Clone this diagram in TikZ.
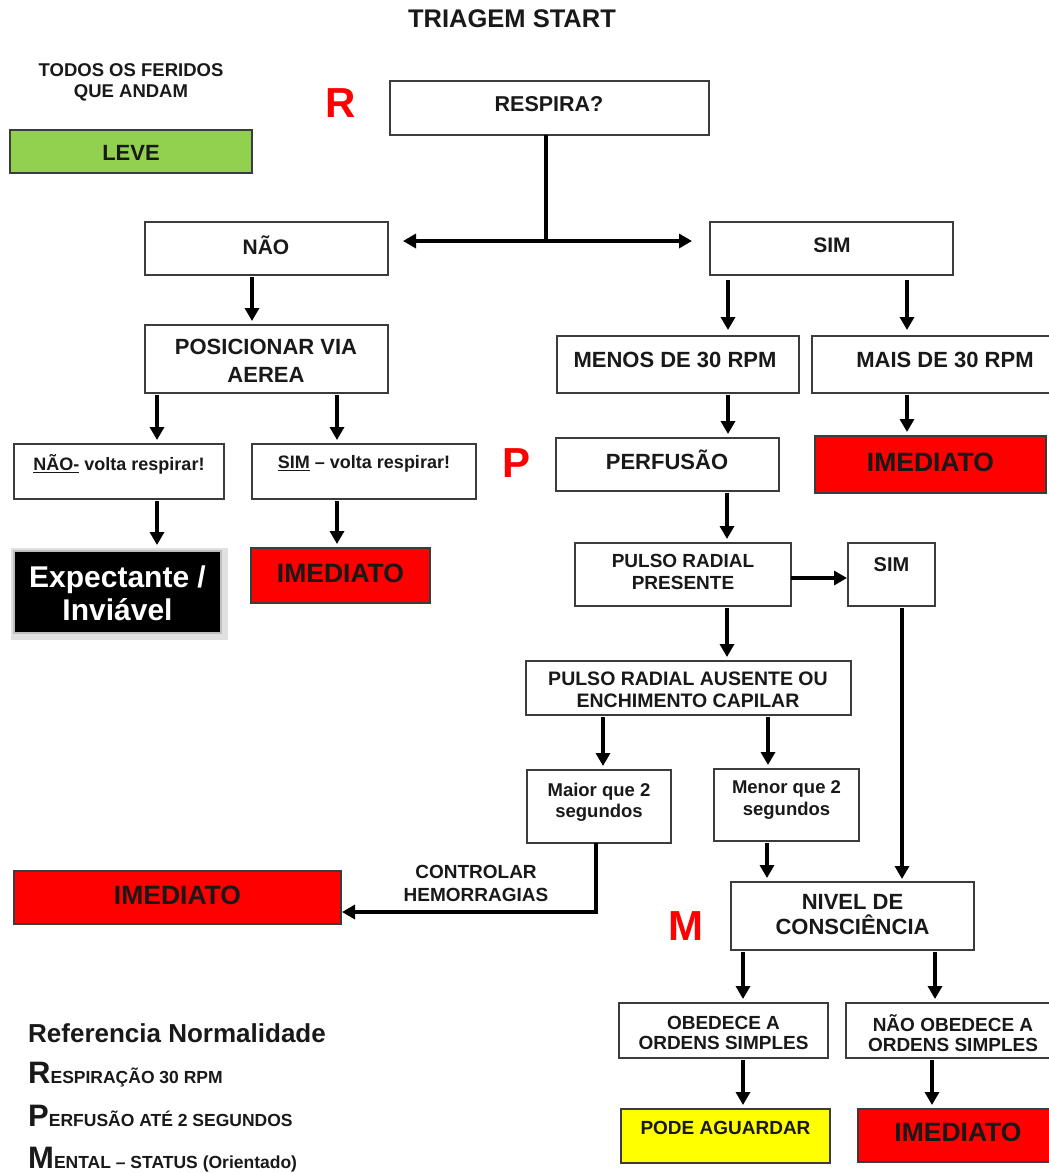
\documentclass[tikz,border=0pt]{standalone}
\usepackage{fontspec}
\setmainfont{Liberation Sans}
\usetikzlibrary{arrows.meta}
\definecolor{okgreen}{HTML}{92D050}
\definecolor{alarmred}{HTML}{FF0000}
\definecolor{waityellow}{HTML}{FFFF00}
\definecolor{frame}{HTML}{3C3C3C}
\newcommand\myfs[2]{\fontsize{#1}{#2}\selectfont}
\tikzset{
  box/.style={draw=frame, line width=1.6pt, inner sep=0pt, outer sep=0pt},
  txt/.style={font=\bfseries, align=center, inner sep=0pt, text=black!90},
  arr/.style={line width=3.4pt, -{Triangle[length=13pt,width=14pt]}, shorten <=2pt, shorten >=4pt},
  plain/.style={line width=3.4pt},
  redletter/.style={font=\bfseries\myfs{42}{44}, text=alarmred, inner sep=0pt},
}
\begin{document}
\begin{tikzpicture}[x=1pt, y=-1pt]
\useasboundingbox (0,0) rectangle (1049,1173);
\fill[white] (0,0) rectangle (1049,1173);

% title and side notes
\node[txt, font=\bfseries\myfs{25.5}{28}] (title) at (512,19) {TRIAGEM START};
\node[txt, font=\bfseries\myfs{18.5}{21}] (todos) at (131,82) {TODOS OS FERIDOS\\QUE ANDAM};
\node[redletter] (letR) at (341,103) {R};
\node[redletter] (letP) at (517,463) {P};
\node[redletter] (letM) at (686,926) {M};

% boxes
\node[box, minimum width=319pt, minimum height=54pt] (resp) at (549.5,108) {};
\node[box, fill=okgreen, minimum width=242pt, minimum height=43pt] (leve) at (131,151.5) {};
\node[box, minimum width=243pt, minimum height=53pt] (nao) at (266.5,248.5) {};
\node[box, minimum width=243pt, minimum height=53pt] (sim) at (831.5,248.5) {};
\node[box, minimum width=243pt, minimum height=68pt] (pos) at (266.5,359) {};
\node[box, minimum width=210pt, minimum height=55pt] (nvr) at (119,471.5) {};
\node[box, minimum width=224pt, minimum height=55pt] (svr) at (364,471.5) {};
\fill[black!12] (11,548) rectangle (228,640);
\node[box, draw=black!25, fill=black, minimum width=207pt, minimum height=82pt] (exp) at (117.5,592) {};
\node[box, fill=alarmred, minimum width=179pt, minimum height=55pt] (imA) at (340.5,575.5) {};
\node[box, minimum width=242pt, minimum height=57pt] (menos) at (678,364.5) {};
\node[box, minimum width=266pt, minimum height=57pt] (mais) at (945,364.5) {};
\node[box, minimum width=223pt, minimum height=53pt] (perf) at (667.5,464.5) {};
\node[box, fill=alarmred, minimum width=231pt, minimum height=57pt] (imB) at (930.5,464.5) {};
\node[box, minimum width=216pt, minimum height=63pt] (prp) at (683,574.5) {};
\node[box, minimum width=87pt, minimum height=63pt] (simB) at (891.5,574.5) {};
\node[box, minimum width=325pt, minimum height=54pt] (pra) at (688.5,688) {};
\node[box, minimum width=144pt, minimum height=73pt] (maior) at (599,806.5) {};
\node[box, minimum width=145pt, minimum height=72pt] (menor) at (786.5,805) {};
\node[box, fill=alarmred, minimum width=327pt, minimum height=53pt] (imC) at (177.5,897.5) {};
\node[box, minimum width=243pt, minimum height=68pt] (niv) at (852.5,916) {};
\node[box, minimum width=209pt, minimum height=55pt] (obd) at (723.5,1030.5) {};
\node[box, minimum width=214pt, minimum height=55pt] (nob) at (953,1030.5) {};
\node[box, fill=waityellow, minimum width=209pt, minimum height=54pt] (pode) at (725.5,1136) {};
\node[box, fill=alarmred, minimum width=200pt, minimum height=53pt] (imD) at (958,1135.5) {};

% box texts
\node[txt, font=\bfseries\myfs{21.5}{24}] (respT) at (549,104) {RESPIRA?};
\node[txt, font=\bfseries\myfs{22}{24}] (leveT) at (131,153) {LEVE};
\node[txt, font=\bfseries\myfs{21}{24}] (naoT) at (266,245) {NÃO};
\node[txt, font=\bfseries\myfs{21}{24}] (simT) at (832,245) {SIM};
\node[txt, font=\bfseries\myfs{22}{28}] (posT) at (266,361) {POSICIONAR VIA\\AEREA};
\node[txt, font=\bfseries\myfs{18}{20}] (nvrT) at (119,464) {\underline{NÃO-} volta respirar!};
\node[txt, font=\bfseries\myfs{18}{20}] (svrT) at (364,464) {\underline{SIM} – volta respirar!};
\node[txt, font=\bfseries\myfs{30}{33}, text=white] (expT) at (117.5,593) {Expectante /\\Inviável};
\node[txt, font=\bfseries\myfs{26.5}{28}] (imAT) at (340.5,573) {IMEDIATO};
\node[txt, font=\bfseries\myfs{22}{24}] (menosT) at (675,360) {MENOS DE 30 RPM};
\node[txt, font=\bfseries\myfs{22}{24}] (maisT) at (945,360) {MAIS DE 30 RPM};
\node[txt, font=\bfseries\myfs{22}{24}] (perfT) at (667,460) {PERFUSÃO};
\node[txt, font=\bfseries\myfs{26.5}{28}] (imBT) at (930.5,462) {IMEDIATO};
\node[txt, font=\bfseries\myfs{19}{21.5}] (prpT) at (683,572) {PULSO RADIAL\\PRESENTE};
\node[txt, font=\bfseries\myfs{20}{22}] (simBT) at (891.5,565) {SIM};
\node[txt, font=\bfseries\myfs{19.5}{22}] (praT) at (688,690) {PULSO RADIAL AUSENTE OU\\ENCHIMENTO CAPILAR};
\node[txt, font=\bfseries\myfs{18.5}{21.5}] (maiorT) at (599,802) {Maior que 2\\segundos};
\node[txt, font=\bfseries\myfs{18.5}{21.5}] (menorT) at (786.5,800) {Menor que 2\\segundos};
\node[txt, font=\bfseries\myfs{26.5}{28}] (imCT) at (177.5,895) {IMEDIATO};
\node[txt, font=\bfseries\myfs{22}{25}] (nivT) at (852.5,915) {NIVEL DE\\CONSCIÊNCIA};
\node[txt, font=\bfseries\myfs{19}{20.5}] (obdT) at (723.5,1033) {OBEDECE A\\ORDENS SIMPLES};
\node[txt, font=\bfseries\myfs{19}{20.5}] (nobT) at (953,1033) {NÃO OBEDECE A\\ORDENS SIMPLES};
\node[txt, font=\bfseries\myfs{19}{21}] (podeT) at (725.5,1128) {PODE AGUARDAR};
\node[txt, font=\bfseries\myfs{26.5}{28}] (imDT) at (958,1132) {IMEDIATO};
\node[txt, font=\bfseries\myfs{19}{23}] (ctrl) at (476,883) {CONTROLAR\\HEMORRAGIAS};

% legend
\node[txt, anchor=base west, font=\bfseries\myfs{26}{28}] (leg0) at (28,1042) {Referencia Normalidade};
\node[txt, anchor=base west, font=\bfseries\myfs{17.5}{20}] (leg1) at (28,1083) {{\myfs{31}{32}R}ESPIRAÇÃO 30 RPM};
\node[txt, anchor=base west, font=\bfseries\myfs{17.5}{20}] (leg2) at (28,1126) {{\myfs{31}{32}P}ERFUSÃO ATÉ 2 SEGUNDOS};
\node[txt, anchor=base west, font=\bfseries\myfs{17.5}{20}] (leg3) at (28,1168) {{\myfs{31}{32}M}ENTAL – STATUS (Orientado)};

% connectors
\coordinate (split) at (546,241);
\draw[plain] ([xshift=-3.5pt]resp.south) -- (split);
\draw[arr, shorten <=0pt, shorten >=15pt] (split) -- (split -| nao.east);
\draw[arr, shorten <=0pt, shorten >=18pt] (split) -- (split -| sim.west);
\draw[arr] ([xshift=-14.5pt]nao.south) -- ([xshift=-14.5pt]pos.north);
\draw[arr] ([xshift=-109.5pt]pos.south) -- ([xshift=38pt]nvr.north);
\draw[arr] ([xshift=70.5pt]pos.south) -- ([xshift=-27pt]svr.north);
\draw[arr, shorten >=6pt] ([xshift=38pt]nvr.south) -- ([xshift=39.5pt]exp.north);
\draw[arr] ([xshift=-27pt]svr.south) -- ([xshift=-3.5pt]imA.north);
\draw[arr, shorten <=5pt, shorten >=6pt] ([xshift=-103.5pt]sim.south) -- ([xshift=50pt]menos.north);
\draw[arr, shorten <=5pt, shorten >=6pt] ([xshift=75.5pt]sim.south) -- ([xshift=-38pt]mais.north);
\draw[arr] ([xshift=50pt]menos.south) -- ([xshift=60.5pt]perf.north);
\draw[arr] ([xshift=-38pt]mais.south) -- ([xshift=-23.5pt]imB.north);
\draw[arr] ([xshift=59.5pt]perf.south) -- ([xshift=44pt]prp.north);
\draw[arr, shorten <=0pt, shorten >=1pt] ([yshift=-3.5pt]prp.east) -- ([yshift=-3.5pt]simB.west);
\draw[arr, shorten >=3pt] ([xshift=10.5pt]simB.south) -- ([xshift=49.5pt]niv.north);
\draw[arr] ([xshift=44pt]prp.south) -- ([xshift=38.5pt]pra.north);
\draw[arr] ([xshift=-85.5pt]pra.south) -- ([xshift=4pt]maior.north);
\draw[arr] ([xshift=79.5pt]pra.south) -- ([xshift=-18.5pt]menor.north);
\draw[arr, shorten <=0pt, shorten >=1pt] ([xshift=-3pt]maior.south) |- ([yshift=-14.5pt]imC.east);
\draw[arr] ([xshift=-19.5pt]menor.south) -- ([xshift=-85.5pt]niv.north);
\draw[arr] ([xshift=-109.5pt]niv.south) -- ([xshift=19.5pt]obd.north);
\draw[arr] ([xshift=82.5pt]niv.south) -- ([xshift=-18pt]nob.north);
\draw[arr] ([xshift=19.5pt]obd.south) -- ([xshift=17.5pt]pode.north);
\draw[arr] ([xshift=-21pt]nob.south) -- ([xshift=-26pt]imD.north);
\end{tikzpicture}
\end{document}
